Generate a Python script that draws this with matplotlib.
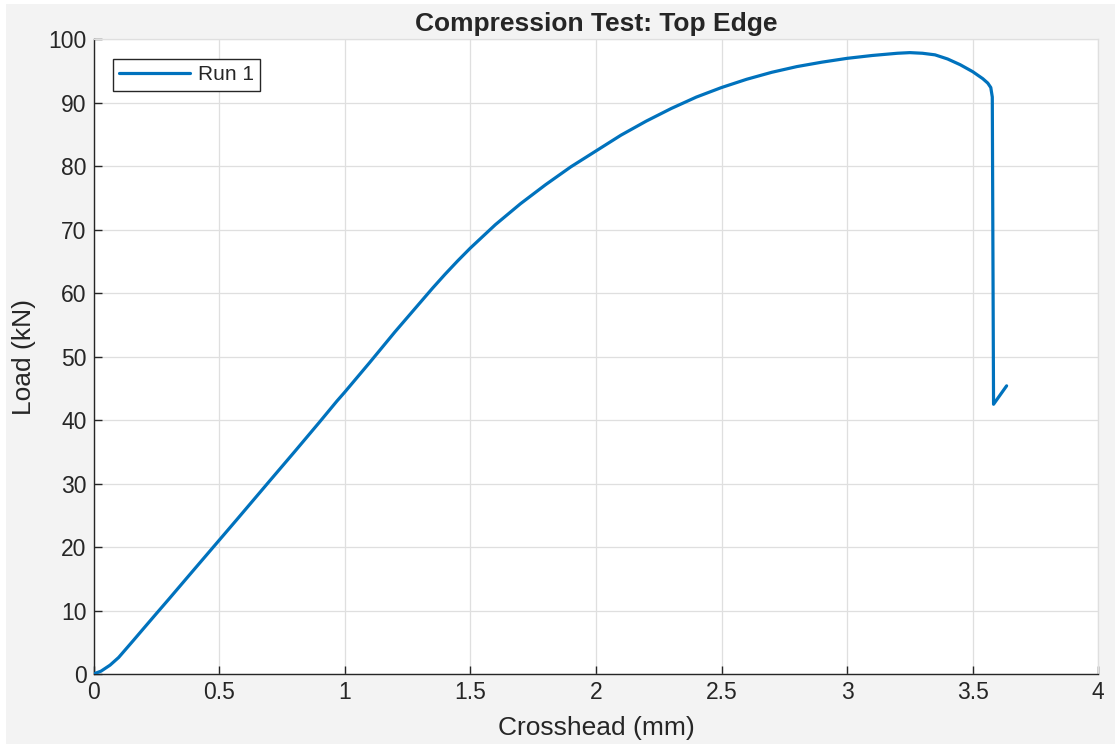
import matplotlib
matplotlib.use("Agg")
import matplotlib.pyplot as plt

# Crosshead displacement (mm) and load (kN) for Run 1
crosshead_mm = [0.0, 0.03, 0.066, 0.1, 0.159, 0.2, 0.252, 0.3, 0.384, 0.477,
                0.57, 0.703, 0.8, 0.9, 0.969, 1.0, 1.1, 1.2, 1.25, 1.3,
                1.35, 1.4, 1.45, 1.5, 1.6, 1.7, 1.8, 1.9, 2.0, 2.1,
                2.2, 2.3, 2.4, 2.5, 2.6, 2.7, 2.8, 2.9, 3.0, 3.1,
                3.2, 3.25, 3.3, 3.35, 3.4, 3.45, 3.5, 3.54, 3.56, 3.572,
                3.578, 3.583, 3.635]
load_kN = [0.0, 0.45, 1.4, 2.6, 5.3, 7.2, 9.6, 11.8, 15.7, 20.0,
           24.3, 30.5, 35.0, 39.7, 43.0, 44.4, 49.1, 53.9, 56.2, 58.5,
           60.8, 63.0, 65.1, 67.1, 70.8, 74.1, 77.1, 79.9, 82.4, 84.9,
           87.1, 89.1, 90.9, 92.4, 93.7, 94.8, 95.7, 96.4, 97.0, 97.45,
           97.8, 97.9, 97.8, 97.55, 96.9, 96.0, 94.9, 93.8, 93.1, 92.4,
           90.9, 42.5, 45.4]

series_label = "Run 1"
x_ticks = [0, 0.5, 1, 1.5, 2, 2.5, 3, 3.5, 4]
x_tick_labels = ["0", "0.5", "1", "1.5", "2", "2.5", "3", "3.5", "4"]
y_ticks = list(range(0, 101, 10))

text_color = "#262626"
grid_color = "#dfdfdf"
line_color = "#0072BD"

plt.rcParams["font.family"] = ["Liberation Sans", "DejaVu Sans"]

fig = plt.figure(figsize=(11.15, 7.44), dpi=100)
fig.patch.set_facecolor("white")
# grey panel behind everything, leaving a thin white margin at top/left
fig.patches.append(plt.Rectangle((6 / 1115, 0), 1, 1 - 4 / 744,
                                 transform=fig.transFigure, facecolor="#f3f3f3",
                                 edgecolor="none", zorder=-10))

ax = fig.add_axes([93.5 / 1115, 70 / 744, (1098.3 - 93.5) / 1115, (674 - 39.3) / 744])
ax.set_facecolor("white")

ax.plot(crosshead_mm, load_kN, color=line_color, lw=2.3, label=series_label,
        solid_joinstyle="round", solid_capstyle="round", zorder=3)

ax.set_xlim(0, 4)
ax.set_ylim(0, 100)
ax.set_xticks(x_ticks)
ax.set_xticklabels(x_tick_labels)
ax.set_yticks(y_ticks)

ax.grid(True, color=grid_color, lw=0.9)
ax.set_axisbelow(True)

for side in ["left", "bottom"]:
    ax.spines[side].set_color(text_color)
    ax.spines[side].set_linewidth(1.0)
for side in ["top", "right"]:
    ax.spines[side].set_color(grid_color)
    ax.spines[side].set_linewidth(0.9)

ax.tick_params(axis="both", direction="in", length=6, width=1.0,
               colors=text_color, labelsize=16.5, labelcolor=text_color,
               top=False, right=False, pad=5)

ax.set_xlabel("Crosshead (mm)", fontsize=19, color=text_color, labelpad=9)
ax.set_ylabel("Load (kN)", fontsize=19, color=text_color, labelpad=9)
ax.set_title("Compression Test: Top Edge", fontsize=19, fontweight="bold",
             color=text_color, pad=6)

leg = ax.legend(loc="upper left", bbox_to_anchor=(19 / 1004.8, 1 - 19.7 / 634.7),
                fontsize=15, frameon=True, fancybox=False, framealpha=1,
                edgecolor=text_color, handlelength=3.4, handletextpad=0.4,
                borderpad=0.3, borderaxespad=0)
leg.get_frame().set_linewidth(1.0)
for t in leg.get_texts():
    t.set_color(text_color)

fig.savefig("out.png", dpi=100, facecolor=fig.get_facecolor())
